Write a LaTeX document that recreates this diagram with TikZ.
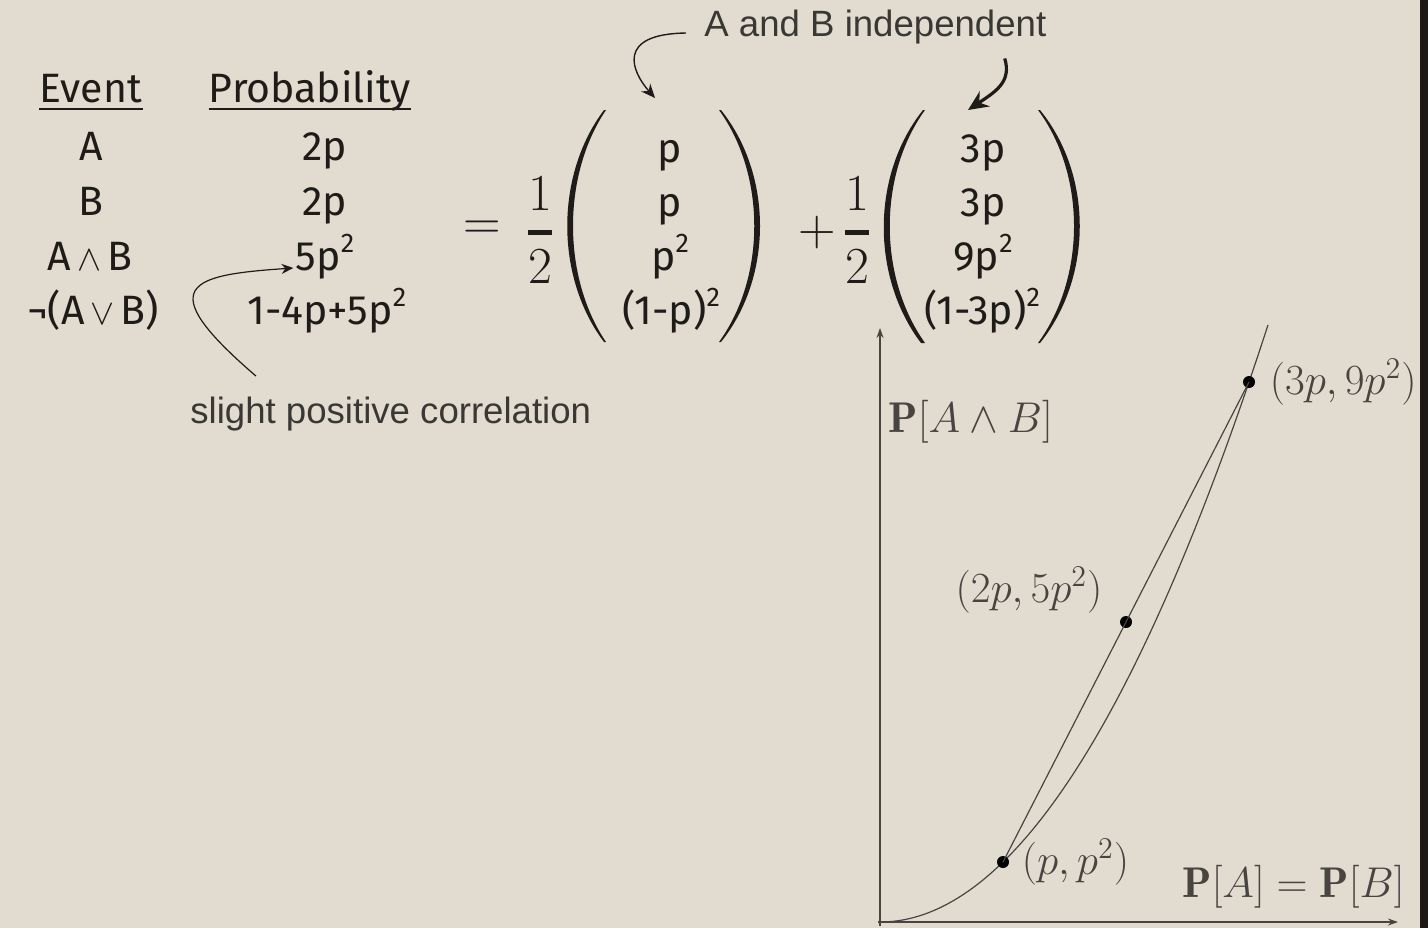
\RequirePackage{fix-cm}
\documentclass[tikz,border=0pt]{standalone}
\usepackage{amsmath}
\usepackage{fontspec}
\newfontfamily\tabfont{Fira Sans}
\newfontfamily\notefont{Liberation Sans}
\usetikzlibrary{arrows.meta,positioning}

\definecolor{paper}{RGB}{226,220,208}
\definecolor{ink}{RGB}{30,27,24}
\definecolor{notegray}{RGB}{58,56,53}
\definecolor{axisgray}{RGB}{72,69,65}
\definecolor{edge}{RGB}{30,25,22}

\newcommand{\andsym}{{\fontsize{18}{18}\selectfont\,$\wedge$\,}}
\newcommand{\orsym}{{\fontsize{18}{18}\selectfont\,$\vee$\,}}
\newcommand{\sqr}{\raisebox{0.42em}{\fontsize{13.5}{13.5}\selectfont 2}}

\begin{document}
\begin{tikzpicture}[
    x=0.5pt, y=-0.5pt,
    >=Stealth,
    tabtext/.style={font=\tabfont\fontsize{20.5}{23}\selectfont, text=ink, inner sep=0pt, anchor=base},
    mathbig/.style={font=\fontsize{26}{30}\selectfont, text=ink, inner sep=0pt},
    note/.style={font=\notefont\fontsize{18.3}{21}\selectfont, text=notegray, inner sep=0pt},
    lbl/.style={font=\fontsize{21.5}{25}\selectfont, text=axisgray, inner sep=0pt},
    paren/.style={fill=ink},
    uline/.style={draw=ink, line width=1pt},
    dot/.style={circle, fill=black, inner sep=0pt, minimum size=6pt},
    plotline/.style={draw=axisgray, line width=0.6pt},
    callout/.style={->, draw=ink, line width=0.7pt}
]
    % paper
    \fill[paper] (0,0) rectangle (1428,928);
    \fill[edge] (1420,0) rectangle (1428,928);
    \useasboundingbox (0,0) rectangle (1428,928);

    % table
    \node[tabtext] (ev) at (91,102) {Event};
    \node[tabtext] (pr) at (310,102) {Probability};
    \draw[uline] ([yshift=-3.5pt]ev.base west) -- ([yshift=-3.5pt]ev.base east);
    \draw[uline] ([yshift=-3.5pt]pr.base west) -- ([yshift=-3.5pt]pr.base east);

    \node[tabtext] (ea) at (91,160) {A};
    \node[tabtext] (eb) at (91,215) {B};
    \node[tabtext] (eab) at (90,270) {A\andsym B};
    \node[tabtext] (enot) at (93,324) {¬(A\orsym B)};
    \node[tabtext] (pa) at (325,160) {2p};
    \node[tabtext] (pb) at (325,215) {2p};
    \node[tabtext] (pab) at (325,270) {5p\sqr};
    \node[tabtext] (pnot) at (327,324) {1-4p+5p\sqr};

    % mixture
    \node[mathbig] (eq) at (482,230) {$=$};
    \node[mathbig] (half1) at (540,230) {$\genfrac{}{}{2.4pt}{0}{1}{2}$};
    \node[mathbig] (plus) at (817,232) {$+$};
    \node[mathbig] (half2) at (857,230) {$\genfrac{}{}{2.4pt}{0}{1}{2}$};

    \fill[paren] (604,110) .. controls (555,175) and (555,277) .. (604,342)
        -- (606,342) .. controls (562,277) and (562,175) .. (606,110) -- cycle;
    \fill[paren] (721,110) .. controls (773,175) and (773,277) .. (721,342)
        -- (719,342) .. controls (766,277) and (766,175) .. (719,110) -- cycle;
    \fill[paren] (923,110) .. controls (871,175) and (871,277) .. (921,343)
        -- (925,343) .. controls (878,277) and (878,175) .. (925,110) -- cycle;
    \fill[paren] (1040,110) .. controls (1093,175) and (1093,277) .. (1040,343)
        -- (1038,343) .. controls (1086,277) and (1086,175) .. (1038,110) -- cycle;

    \node[tabtext] (ma) at (670,162) {p};
    \node[tabtext] (mb) at (670,216) {p};
    \node[tabtext] (mab) at (670,270) {p\sqr};
    \node[tabtext] (mnot) at (671,324) {(1-p)\sqr};
    \node[tabtext] (na) at (983,162) {3p};
    \node[tabtext] (nb) at (983,216) {3p};
    \node[tabtext] (nab) at (983,270) {9p\sqr};
    \node[tabtext] (nnot) at (982,324) {(1-3p)\sqr};

    % notes
    \node[note, anchor=west] (indep) at (704,27) {A and B independent};
    \node[note, anchor=base west] (corr) at (190,423) {slight positive correlation};
    \coordinate (t1) at (655,98);
    \coordinate (t2) at (968,110);
    \draw[callout, -{Stealth[length=7pt, width=6pt]}] ([xshift=-9pt, yshift=-3pt]indep.west)
        .. controls (615,34) and (632,72) .. (t1);
    \draw[callout, line width=1.6pt, -{Stealth[length=10pt, width=9pt]}] ([xshift=-21pt, yshift=-7pt]indep.south east)
        .. controls (1012,82) and (995,92) .. (t2);
    \draw[callout, line width=0.6pt, -{Stealth[length=6pt, width=5pt]}] ([xshift=33pt, yshift=10pt]corr.north west)
        .. controls (150,285) and (190,275) .. ([xshift=-1pt, yshift=1pt]pab.base west);

    % plot
    \coordinate (o) at (880,922);
    \coordinate (ytop) at (880,328);
    \coordinate (xend) at (1398,922);
    \draw[plotline, -{Stealth[length=5pt, width=3.5pt]}] ([yshift=-2pt]o) -- (ytop);
    \draw[plotline, -{Stealth[length=5pt, width=3.5pt]}] ([xshift=-1pt]o) -- (xend);
    \draw[plotline] plot[domain=0:388, samples=80] ({880+\x}, {922-60*(\x/123)^2});

    \node[dot] (d1) at (1003,862) {};
    \node[dot] (d2) at (1126,622) {};
    \node[dot] (d3) at (1249,382) {};
    \draw[plotline] (d1.center) -- (d3.center);

    \node[lbl, right=7pt of d3] (l3) {$(3p,9p^2)$};
    \node[lbl] (l2) at (1029,590) {$(2p,5p^2)$};
    \node[lbl, right=6pt of d1] (l1) {$(p,p^2)$};
    \node[lbl, anchor=west] (ylab) at (888,422) {$\mathbf{P}[A\wedge B]$};
    \node[lbl, anchor=east] (xlab) at (1405,887) {$\mathbf{P}[A]=\mathbf{P}[B]$};
\end{tikzpicture}
\end{document}
